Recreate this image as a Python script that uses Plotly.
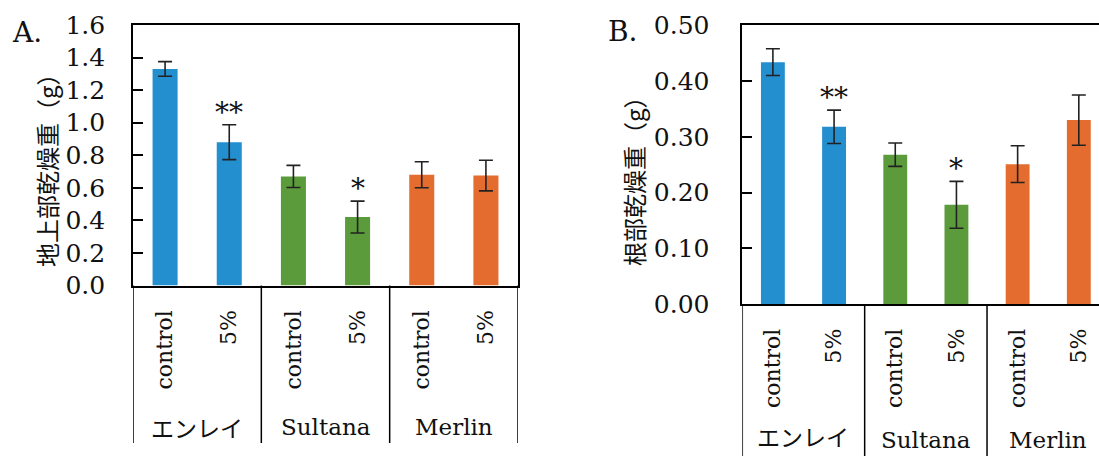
import plotly.graph_objects as go

W, H = 1099, 456

# ---------------- data ----------------
treatments = ["control", "5%", "control", "5%", "control", "5%"]
cultivars = ["エンレイ", "Sultana", "Merlin"]
bar_colors = ["#238fcf", "#238fcf", "#5c9b3b", "#5c9b3b", "#e36c2e", "#e36c2e"]

shoot_mean = [1.33, 0.88, 0.67, 0.42, 0.68, 0.675]
shoot_err = [0.045, 0.107, 0.068, 0.098, 0.08, 0.094]
shoot_sig = ["", "**", "", "*", "", ""]

root_mean = [0.434, 0.318, 0.268, 0.178, 0.251, 0.330]
root_err = [0.024, 0.030, 0.021, 0.042, 0.033, 0.045]
root_sig = ["", "**", "", "*", "", ""]

yticks_a = [0.0, 0.2, 0.4, 0.6, 0.8, 1.0, 1.2, 1.4, 1.6]
yticks_b = [0.0, 0.1, 0.2, 0.3, 0.4, 0.5]

# ---------------- layout helpers ----------------
def px_x(p):
    return p / W

def px_y(p):
    return (H - p) / H

SERIF = "DejaVu Serif, Noto Sans CJK JP, serif"
JP = "Noto Sans CJK JP, DejaVu Serif, sans-serif"

xpos = list(range(len(treatments)))

fig = go.Figure()

for xa, ya, means, errs in [("x", "y", shoot_mean, shoot_err), ("x2", "y2", root_mean, root_err)]:
    fig.add_trace(go.Bar(
        x=xpos, y=means, xaxis=xa, yaxis=ya,
        marker=dict(color=bar_colors, line=dict(width=0)),
        width=0.39,
        error_y=dict(type="data", array=errs, visible=True, color="#222222", thickness=1.6, width=7),
        showlegend=False, hoverinfo="skip",
    ))

# domains
a_left, a_right, a_top, a_bot = 133, 518, 25, 285.5
b_left, b_top, b_bot = 742.3, 25.4, 304

axis_common = dict(showgrid=False, zeroline=False, linecolor="black", linewidth=1.6, automargin=False)

fig.update_layout(
    width=W, height=H,
    margin=dict(l=0, r=0, t=0, b=0, autoexpand=False),
    paper_bgcolor="white", plot_bgcolor="white",
    bargap=0.6,
    xaxis=dict(domain=[px_x(a_left), px_x(a_right)], range=[-0.5, 5.5],
               tickvals=xpos, ticktext=treatments, tickangle=-90,
               ticks="outside", ticklen=14, tickcolor="rgba(0,0,0,0)",
               tickfont=dict(family=SERIF, size=22, color="#111"),
               showline=True, mirror=True, anchor="y", **axis_common),
    yaxis=dict(domain=[px_y(a_bot), px_y(a_top)], range=[0, 1.6],
               tickvals=yticks_a, ticktext=[f"{v:.1f}" for v in yticks_a],
               ticks="inside", ticklen=10, tickwidth=1.5, tickcolor="black",
               tickfont=dict(family=SERIF, size=25, color="#111"),
               ticklabelstandoff=21,
               showline=True, mirror=True, anchor="x", **axis_common),
    xaxis2=dict(domain=[px_x(b_left), 1.0], range=[-0.5, 5.33],
                tickvals=xpos, ticktext=treatments, tickangle=-90,
                ticks="outside", ticklen=14, tickcolor="rgba(0,0,0,0)",
                tickfont=dict(family=SERIF, size=22, color="#111"),
                showline=True, mirror=True, anchor="y2", **axis_common),
    yaxis2=dict(domain=[px_y(b_bot), px_y(b_top)], range=[0, 0.5],
                tickvals=yticks_b, ticktext=[f"{v:.2f}" for v in yticks_b],
                ticks="inside", ticklen=10, tickwidth=1.5, tickcolor="black",
                tickfont=dict(family=SERIF, size=25, color="#111"),
                ticklabelstandoff=26,
                showline=True, mirror=False, anchor="x2", **axis_common),
)

shapes = []
annotations = []

# table lines under the x axes
for xref, yb_px, ybot_px in [("x", a_bot, 443), ("x2", b_bot, 460)]:
    for xv in [-0.5, 1.5, 3.5, 5.5]:
        shapes.append(dict(type="line", xref=xref, yref="paper",
                           x0=xv, x1=xv, y0=px_y(ybot_px), y1=px_y(yb_px),
                           line=dict(color="black", width=1.5)))

# cultivar labels
for xref, ylab, anchor in [("x", 427, "middle"), ("x2", 455, "bottom")]:
    for i, name in enumerate(cultivars):
        annotations.append(dict(xref=xref, yref="paper", x=2 * i + 0.5, y=px_y(ylab),
                                text=name, showarrow=False, xanchor="center", yanchor=anchor,
                                font=dict(family=SERIF if name.isascii() else JP, size=23, color="#111")))

# significance stars
for xref, yref, means, errs, sig, shift in [("x", "y", shoot_mean, shoot_err, shoot_sig, -6),
                                            ("x2", "y2", root_mean, root_err, root_sig, -6)]:
    for i, s in enumerate(sig):
        if s:
            annotations.append(dict(xref=xref, yref=yref, x=xpos[i], y=means[i] + errs[i],
                                    text=s, showarrow=False, xanchor="center", yanchor="bottom",
                                    yshift=shift, font=dict(family=SERIF, size=28, color="#111")))

# panel letters
annotations.append(dict(xref="paper", yref="paper", x=px_x(10), y=px_y(33), text="A.",
                        showarrow=False, xanchor="left", yanchor="middle",
                        font=dict(family=SERIF, size=28, color="#111")))
annotations.append(dict(xref="paper", yref="paper", x=px_x(606), y=px_y(31), text="B.",
                        showarrow=False, xanchor="left", yanchor="middle",
                        font=dict(family=SERIF, size=28, color="#111")))

# y axis titles
annotations.append(dict(xref="paper", yref="paper", x=px_x(46), y=px_y(164), text="地上部乾燥重（g）",
                        showarrow=False, textangle=-90, xanchor="center", yanchor="middle",
                        font=dict(family=JP, size=24, color="#111")))
annotations.append(dict(xref="paper", yref="paper", x=px_x(633), y=px_y(175), text="根部乾燥重（g）",
                        showarrow=False, textangle=-90, xanchor="center", yanchor="middle",
                        font=dict(family=JP, size=24, color="#111")))

fig.update_layout(shapes=shapes, annotations=annotations)

fig.write_html("out.html")
